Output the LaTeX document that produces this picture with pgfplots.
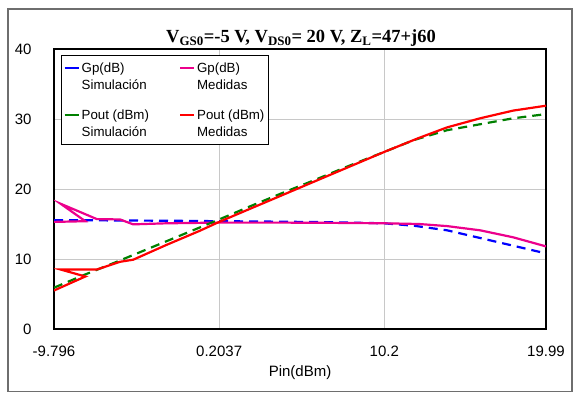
\documentclass[border=0pt]{standalone}
\usepackage{pgfplots}
\pgfplotsset{compat=1.18}
\usepackage{fontspec}
\setmainfont{Liberation Sans}
\newfontfamily\titlefont{Liberation Serif}
\definecolor{simgreen}{RGB}{0,128,0}
\definecolor{gridgray}{RGB}{200,200,200}
\definecolor{framegray}{RGB}{110,110,110}
\begin{document}
\begin{tikzpicture}[x=1bp,y=1bp]
\path (0,0) rectangle (580,394);
\draw[framegray, line width=1.2bp] (8,2.5) rectangle (572,385);
\node[font=\titlefont\bfseries\fontsize{18.5bp}{22bp}\selectfont] at (301,356)
  {V\textsubscript{GS0}=-5 V, V\textsubscript{DS0}= 20 V, Z\textsubscript{L}=47+j60};
\begin{axis}[
  at={(54bp,65bp)}, anchor=south west,
  scale only axis, width=492bp, height=280bp,
  xmin=-9.796, xmax=19.99, ymin=0, ymax=40,
  xtick={-9.796,0.2037,10.2,19.99},
  xticklabels={-9.796,0.2037,10.2,19.99},
  ytick={0,10,20,30,40},
  yticklabels={0,10,20,30,40},
  major tick length=0pt,
  grid=major, grid style={gridgray, line width=1bp},
  axis line style={black, line width=1.5bp},
  tick label style={font=\fontsize{15bp}{18bp}\selectfont},
  xticklabel style={yshift=-13bp},
  yticklabel style={xshift=-19bp},
  xlabel={Pin(dBm)},
  xlabel style={font=\fontsize{15bp}{18bp}\selectfont, yshift=-3bp},
  legend columns=2,
  legend cell align=left,
  legend style={at={(rel axis cs:0,1)}, anchor=north west, xshift=7bp, yshift=-6bp,
    draw=black, line width=1bp, fill=white,
    font=\fontsize{13.3bp}{17bp}\selectfont,
    nodes={align=left},
    inner xsep=2bp, inner ysep=5bp, row sep=15bp,
    /tikz/every even column/.append style={column sep=28bp}},
  legend image code/.code={\draw[#1, solid, line width=2.2bp] (0bp,8.5bp) -- (14bp,8.5bp);},
]
\addplot[blue, line width=2.2bp, dash pattern=on 9bp off 6bp] coordinates {
(-9.796,15.55) (-8,15.55) (-6,15.5) (-4,15.48) (-2,15.45) (0.2037,15.4) (2,15.37) (4,15.33) (6,15.28) (8,15.2) (10.2,15.1) (12,14.75) (14,14.1) (16,13.0) (18,11.9) (19.99,10.8)};
\addlegendentry{Gp(dB)\\Simulación}
\addplot[magenta, line width=2.2bp] coordinates {
(-9.796,15.3) (-7.9,15.4) (-9.4,17.9) (-7.2,15.7) (-5.8,15.65) (-5.0,14.95) (-3,15.1) (0.2037,15.2) (4,15.2) (8,15.15) (10.2,15.1) (12.3,15.0) (14,14.7) (16,14.1) (18,13.1) (19.99,11.8)};
\addlegendentry{Gp(dB)\\Medidas}
\addplot[simgreen, line width=2.2bp, dash pattern=on 9bp off 6bp] coordinates {
(-9.796,5.9) (-8,7.7) (-6,9.6) (-4,11.55) (-2,13.5) (0.2037,15.65) (2,17.45) (4,19.4) (6,21.3) (8,23.25) (10.2,25.3) (12,27.0) (14,28.4) (16,29.25) (18,30.1) (19.99,30.7)};
\addlegendentry{Pout (dBm)\\Simulación}
\addplot[red, line width=2.2bp] coordinates {
(-9.796,5.5) (-7.9,7.5) (-9.4,8.5) (-7.2,8.5) (-5.8,9.6) (-5.0,9.9) (-3,12.0) (-1,14.0) (0.2037,15.3) (2,17.1) (4,19.1) (6,21.1) (8,23.1) (10.2,25.3) (12.3,27.3) (14,28.8) (16,30.1) (18,31.2) (19.99,31.9)};
\addlegendentry{Pout (dBm)\\Medidas}
\end{axis}
\end{tikzpicture}
\end{document}
